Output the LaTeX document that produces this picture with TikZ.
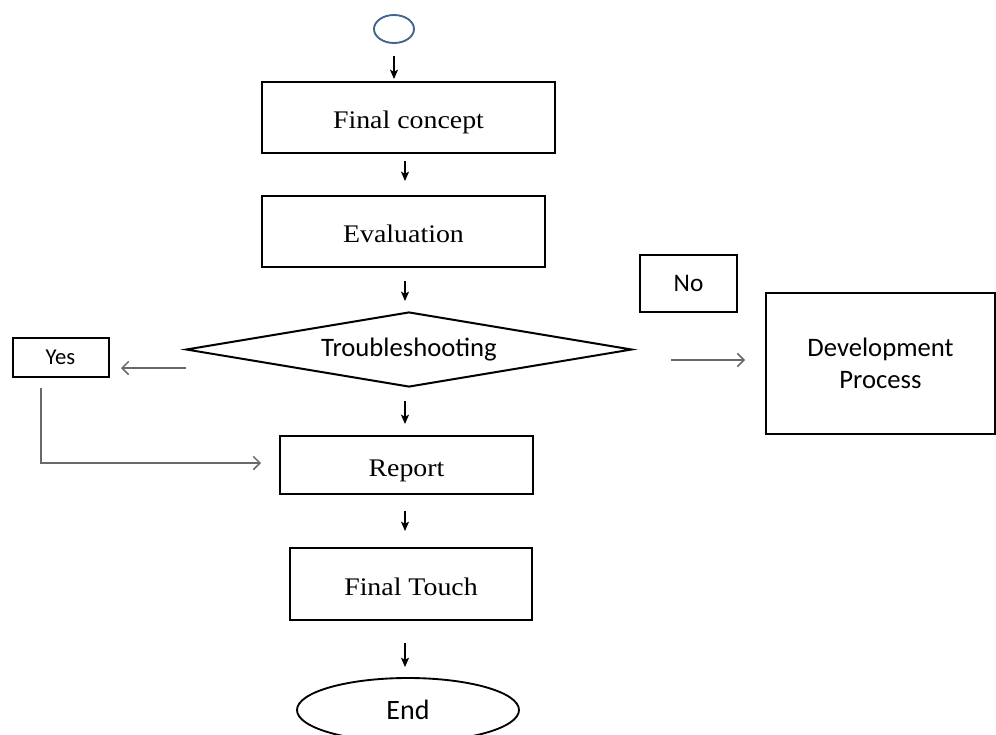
\documentclass[tikz,border=0pt]{standalone}
\usepackage{fontspec}
\setmainfont[FakeStretch=1.1]{Liberation Serif}
\newfontfamily\calibri{Carlito}
\usetikzlibrary{shapes.geometric,arrows.meta,calc,positioning}

\definecolor{startblue}{RGB}{65,100,145}
\definecolor{sidegray}{RGB}{105,105,105}

\tikzset{
	box/.style={draw, rectangle, line width=1.5pt, inner sep=0pt,
		text height=17pt, text depth=0pt,
		font=\fontsize{19}{23}\selectfont},
	sbox/.style={draw, rectangle, line width=1.5pt, inner sep=0pt, align=center,
		font=\calibri\fontsize{20}{24}\selectfont},
	flow/.style={-{Stealth[length=7pt,width=6pt,inset=1.5pt]}, line width=0.8pt},
	side/.style={-{Straight Barb[length=5pt,width=10pt]}, line width=1.1pt, sidegray},
}

\begin{document}
\begin{tikzpicture}[x=0.75pt, y=-0.75pt]

	\useasboundingbox (0,0) rectangle (996,735);
	\def\pu{0.75pt}

	% start and end
	\node[ellipse, draw=startblue, line width=1.4pt, minimum width=40*\pu,
		minimum height=28*\pu] (start) at (394,29) {};
	\node[ellipse, draw, line width=1.4pt, inner sep=0pt, minimum width=222*\pu,
		minimum height=64*\pu, font=\calibri\fontsize{21}{25}\selectfont]
		(stop) at (408,710) {End};

	% main column
	\node[box, minimum width=293*\pu, minimum height=71*\pu] (fc) at (408.5,117.5) {Final concept};
	\node[box, minimum width=283*\pu, minimum height=71*\pu] (ev) at (403.5,231.5) {Evaluation};
	\node[diamond, draw, line width=1.5pt, aspect=6, inner sep=0pt,
		minimum width=446*\pu, minimum height=75*\pu,
		font=\calibri\fontsize{20}{24}\selectfont] (tr) at (409,349.5) {Troubleshooting};
	\node[box, minimum width=253*\pu, minimum height=58*\pu] (rep) at (406.5,465) {Report};
	\node[box, minimum width=242*\pu, minimum height=72*\pu] (ft) at (411,584) {Final Touch};

	% side boxes
	\node[sbox, minimum width=96*\pu, minimum height=39*\pu,
		font=\calibri\fontsize{17}{20}\selectfont] (yes) at (60.5,357.5) {Yes};
	\node[sbox, minimum width=97*\pu, minimum height=57*\pu,
		font=\calibri\fontsize{19}{23}\selectfont] (no) at (688.5,283.5) {No};
	\node[sbox, minimum width=229*\pu, minimum height=141*\pu] (dev) at (880.5,363.5)
		{Development\\Process};

	% short arrows down the column
	\coordinate (ax) at (405,0);
	\draw[flow, shorten <=12*\pu, shorten >=2*\pu] (start.south) -- (fc.north -| start);
	\foreach \a/\b/\s/\e in {fc/ev/7/14, ev/tr/13/10, tr/rep/13/11, rep/ft/16/16, ft/stop/22/10}{
		\draw[flow, shorten <=\s*\pu, shorten >=\e*\pu]
			(\a.south -| ax) -- (\b.north -| ax);
	}

	% yes / no branches
	\draw[side] ($(tr.west)+(1,18.5)$) -- ($(yes.east)+(11.5,10.5)$);
	\draw[side] ($(yes.south)+(-19.5,10)$) |- ($(rep.west)+(-18,-2)$);
	\draw[side] ($(tr.east)+(38,10.5)$) -- ($(dev.west)+(-20,-3.5)$);

\end{tikzpicture}
\end{document}
